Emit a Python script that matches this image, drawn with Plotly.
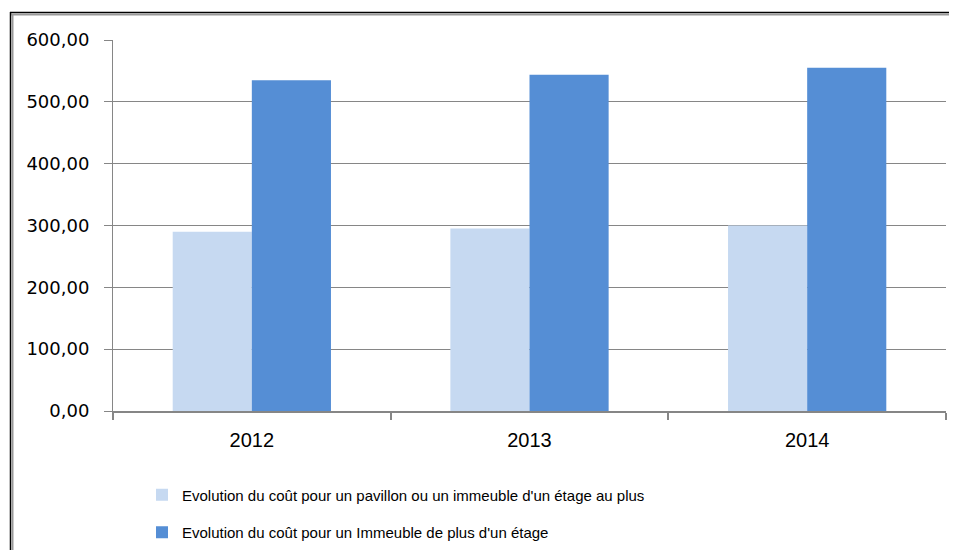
import plotly.graph_objects as go

years = ["2012", "2013", "2014"]
pavillon = [290, 295, 300]
immeuble = [535, 544, 555]
series_names = [
    "Evolution du coût pour un pavillon ou un immeuble d'un étage au plus",
    "Evolution du coût pour un Immeuble de plus d'un étage",
]
y_ticks = [0, 100, 200, 300, 400, 500, 600]

# page has an 8px body margin; size the figure so the page is 957x558
OFF = 8
W, H = 957 - 2 * OFF, 558 - 2 * OFF
L, R, T, B = 113 - OFF, W - (946 - OFF), 40 - OFF, H - (412 - OFF)
pw, ph = W - L - R, H - T - B

def px(x):  # reference pixel -> paper x
    return (x - OFF - L) / pw

def py(y):  # reference pixel -> paper y
    return (H - B - (y - OFF)) / ph

fig = go.Figure()
fig.add_trace(go.Bar(x=years, y=pavillon, name=series_names[0],
                     marker=dict(color="#C6D9F1", line=dict(width=0)),
                     legendgroup="a"))
fig.add_trace(go.Bar(x=years, y=immeuble, name=series_names[1],
                     marker=dict(color="#558ED5", line=dict(width=0)),
                     legendgroup="b"))

grey = "#868686"
fig.update_layout(
    width=W, height=H,
    margin=dict(l=L, r=R, t=T, b=B, pad=0),
    paper_bgcolor="white", plot_bgcolor="white",
    barmode="group", bargap=0.43, bargroupgap=0,
    separators=", ",
    showlegend=True,
    legend=dict(x=px(142), y=py(478.5), xanchor="left", yanchor="top",
                orientation="v", traceorder="grouped", tracegroupgap=15,
                font=dict(family="Liberation Sans", size=15, color="#000000"),
                bgcolor="rgba(0,0,0,0)"),
    xaxis=dict(type="category", showgrid=False, showline=True, linecolor=grey,
               linewidth=2, ticks="outside", tickson="boundaries", ticklen=7,
               tickcolor=grey, tickwidth=1.5,
               tickfont=dict(family="Liberation Sans", size=20, color="#000000"),
               ticklabelstandoff=10),
    yaxis=dict(range=[0, 600], tickvals=y_ticks, tickformat=".2f",
               showgrid=True, gridcolor=grey, gridwidth=1,
               showline=True, linecolor=grey, linewidth=1,
               ticks="outside", ticklen=8, tickcolor=grey,
               tickfont=dict(family="DejaVu Sans", size=18, color="#000000"),
               ticklabelstandoff=11, zeroline=False),
    shapes=[
        dict(type="line", xref="paper", yref="paper", x0=px(10), x1=px(957),
             y0=py(12.5), y1=py(12.5), line=dict(color="#000000", width=1.5)),
        dict(type="line", xref="paper", yref="paper", x0=px(11), x1=px(957),
             y0=py(14.5), y1=py(14.5), line=dict(color="#999999", width=2)),
        dict(type="line", xref="paper", yref="paper", x0=px(10.5), x1=px(10.5),
             y0=py(12), y1=py(558), line=dict(color="#000000", width=1.5)),
        dict(type="line", xref="paper", yref="paper", x0=px(12.5), x1=px(12.5),
             y0=py(14), y1=py(558), line=dict(color="#999999", width=2)),
    ],
)

fig.write_html("out.html")
